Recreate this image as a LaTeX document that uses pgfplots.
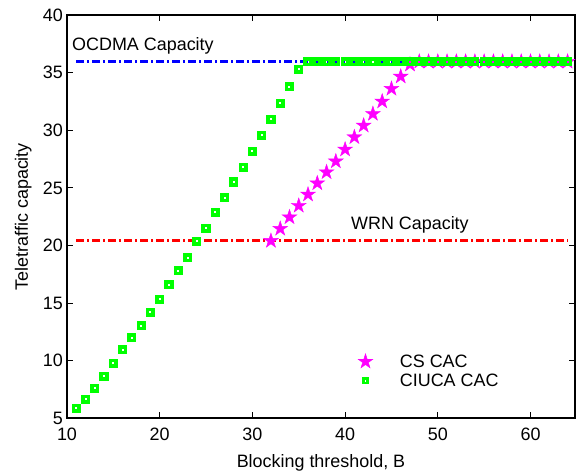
\documentclass[border=0pt]{standalone}
\usepackage{fontspec}
\setmainfont{Liberation Sans}
\usepackage{pgfplots}
\pgfplotsset{compat=1.18}
\usetikzlibrary{plotmarks}
\newcommand\fs{\fontsize{18}{21}\selectfont}
\definecolor{mgreen}{rgb}{0,1,0}
\definecolor{mmag}{rgb}{1,0,1}
\definecolor{mblue}{rgb}{0,0,1}
\definecolor{mred}{rgb}{1,0,0}
\pgfdeclareplotmark{pentagram}{%
  \pgfpathmoveto{\pgfpointpolar{90}{\pgfplotmarksize}}%
  \pgfpathlineto{\pgfpointpolar{126}{0.382\pgfplotmarksize}}%
  \pgfpathlineto{\pgfpointpolar{162}{\pgfplotmarksize}}%
  \pgfpathlineto{\pgfpointpolar{198}{0.382\pgfplotmarksize}}%
  \pgfpathlineto{\pgfpointpolar{234}{\pgfplotmarksize}}%
  \pgfpathlineto{\pgfpointpolar{270}{0.382\pgfplotmarksize}}%
  \pgfpathlineto{\pgfpointpolar{306}{\pgfplotmarksize}}%
  \pgfpathlineto{\pgfpointpolar{342}{0.382\pgfplotmarksize}}%
  \pgfpathlineto{\pgfpointpolar{18}{\pgfplotmarksize}}%
  \pgfpathlineto{\pgfpointpolar{54}{0.382\pgfplotmarksize}}%
  \pgfpathclose
  \pgfusepathqfillstroke
}
\begin{document}
\begin{tikzpicture}
\begin{axis}[
  name=ax,
  scale only axis, width=508bp, height=403.3bp,
  xmin=10, xmax=64.8, ymin=5, ymax=40,
  xtick={10,20,...,60}, ytick={5,10,...,40},
  tick align=inside, major tick length=6bp,
  axis line style={line width=1.8bp},
  every tick/.style={black, line width=1bp},
  /pgf/number format/assume math mode=true,
  tick label style={font=\fs},
  label style={font=\fs},
  xticklabel style={anchor=north, inner sep=0pt, yshift=-9bp},
  yticklabel style={anchor=east, inner sep=0pt, xshift=-4bp},
  xlabel={Blocking threshold, B},
  ylabel={Teletraffic capacity},
  xlabel style={at={(axis description cs:0.5,-0.1215)}, anchor=base},
  ylabel style={at={(axis description cs:-0.0768,0.5)}, anchor=base},
  legend style={draw=none, fill=none, font=\fs, inner sep=0pt, row sep=1bp, column sep=25bp,
    at={(axis description cs:0.5726,0.117)}, anchor=west},
  legend cell align=left,
]
\addplot[only marks, mark=pentagram, mark size=7.8bp, draw=mmag, fill=mmag, line width=0.4bp]
coordinates {
(32,20.40) (33,21.45) (34,22.45) (35,23.45) (36,24.42) (37,25.40) (38,26.36) (39,27.30)
(40,28.33) (41,29.40) (42,30.41) (43,31.42) (44,32.50) (45,33.60) (46,34.66) (47,35.70)
(48,35.95) (49,35.95) (50,35.95) (51,35.95) (52,35.95) (53,35.95) (54,35.95) (55,35.95)
(56,35.95) (57,35.95) (58,35.95) (59,35.95) (60,35.95) (61,35.95) (62,35.95) (63,35.95) (64,35.95)
};
\addlegendentry{CS CAC}
\addplot[only marks, mark=square, mark size=2.8bp, draw=mgreen, line width=3.6bp,
  mark options={line width=3.6bp},
  legend image post style={mark size=2.3bp, mark options={line width=2.8bp}}]
coordinates {
(11,5.87) (12,6.65) (13,7.62) (14,8.64) (15,9.79) (16,10.94) (17,12.01) (18,13.02)
(19,14.20) (20,15.33) (21,16.60) (22,17.80) (23,18.94) (24,20.35) (25,21.50) (26,22.87)
(27,24.15) (28,25.50) (29,26.80) (30,28.17) (31,29.57) (32,30.96) (33,32.35) (34,33.77)
(35,35.30) (36,35.95) (37,35.95) (38,35.95) (39,35.95) (40,35.95) (41,35.95) (42,35.95)
(43,35.95) (44,35.95) (45,35.95) (46,35.95) (47,35.95) (48,35.95) (49,35.95) (50,35.95)
(51,35.95) (52,35.95) (53,35.95) (54,35.95) (55,35.95) (56,35.95) (57,35.95) (58,35.95)
(59,35.95) (60,35.95) (61,35.95) (62,35.95) (63,35.95) (64,35.95)
};
\addlegendentry{CIUCA CAC}
\addplot[mblue, line width=2.5bp, dash pattern=on 8bp off 3bp on 2bp off 3bp, forget plot]
coordinates {(11,35.95) (64,35.95)};
\addplot[mred, line width=2.5bp, dash pattern=on 8bp off 3bp on 2bp off 3bp, forget plot]
coordinates {(11,20.43) (64,20.43)};
\node[anchor=base west, font=\fs, inner sep=0pt] at (axis cs:10.54,36.96) {OCDMA Capacity};
\node[anchor=base west, font=\fs, inner sep=0pt] at (axis cs:40.63,21.42) {WRN Capacity};
\end{axis}
\pgfresetboundingbox
\path[use as bounding box] ([xshift=-67bp,yshift=-55bp]ax.south west) rectangle ([xshift=1bp,yshift=15bp]ax.north east);
\end{tikzpicture}
\end{document}
